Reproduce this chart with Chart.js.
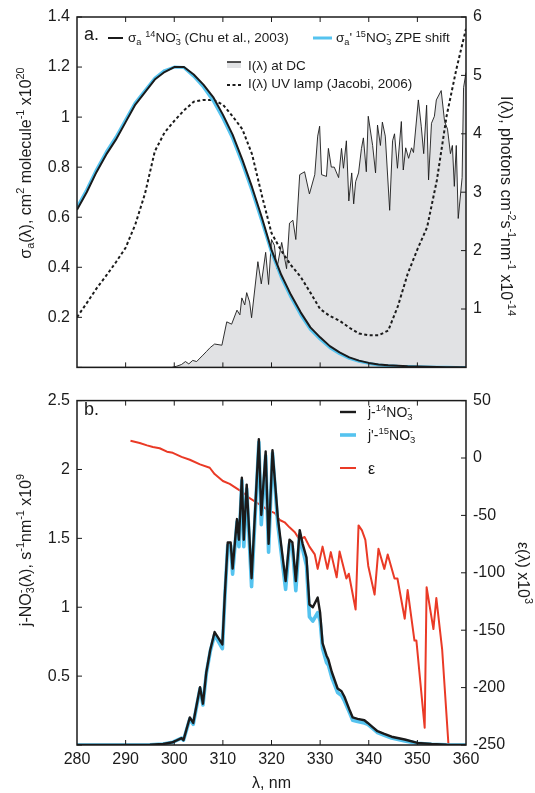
<!DOCTYPE html>
<html>
<head>
<meta charset="utf-8" />
<title>Nitrate cross sections, irradiance and photolysis rates</title>
<script src="https://cdn.jsdelivr.net/npm/chart.js@4"></script>
<style>
  html, body { margin: 0; padding: 0; background: #fff; }
  #wrap { position: relative; width: 535px; height: 793px; }
  canvas { position: absolute; left: 0; }
  #topChart { top: 0; }
  #botChart { top: 384px; }
</style>
</head>
<body>
<div id="wrap">
  <canvas id="topChart" width="535" height="384"></canvas>
  <canvas id="botChart" width="535" height="409"></canvas>
</div>
<script>
// ---- panel a: absorption cross sections (x1e-20 cm2) ----
const sigmaWl = [280, 282, 284, 286, 288, 290, 292, 294, 296, 298, 300, 302, 304, 306, 308, 310, 312, 314, 316, 318,
  320, 322, 324, 326, 328, 330, 332, 334, 336, 338, 340, 342, 344, 346, 348, 350, 352, 354, 356, 358, 360];
const sigma14 = [0.63, 0.70, 0.78, 0.85, 0.91, 0.98, 1.05, 1.10, 1.15, 1.18, 1.20, 1.20, 1.17, 1.13, 1.08, 1.01, 0.93, 0.83, 0.72, 0.60,
  0.47, 0.37, 0.29, 0.22, 0.16, 0.12, 0.085, 0.06, 0.04, 0.027, 0.018, 0.012, 0.009, 0.007, 0.005, 0.004, 0.003, 0.002, 0.001, 0.001, 0];
const sigma15 = [0.64, 0.71, 0.79, 0.86, 0.92, 0.99, 1.058, 1.107, 1.156, 1.186, 1.20, 1.198, 1.163, 1.12, 1.065, 0.995, 0.915, 0.815, 0.705, 0.585,
  0.46, 0.36, 0.28, 0.21, 0.152, 0.113, 0.079, 0.055, 0.036, 0.024, 0.016, 0.010, 0.007, 0.005, 0.004, 0.003, 0.002, 0.001, 0.001, 0, 0];

// UV lamp irradiance (x1e14 photons cm-2 s-1 nm-1)
const lampWl = sigmaWl;
const lampI = [0.86, 1.10, 1.35, 1.57, 1.80, 2.05, 2.45, 2.98, 3.70, 4.02, 4.22, 4.40, 4.55, 4.58, 4.58, 4.50, 4.30, 4.08, 3.65, 2.95,
  2.30, 2.00, 1.75, 1.55, 1.28, 1.00, 0.88, 0.80, 0.68, 0.58, 0.55, 0.55, 0.63, 1.05, 1.60, 2.02, 2.40, 3.20, 4.30, 5.10, 5.80];

// irradiance at Dome C
const dcWl = [280, 299.5, 300.5, 301.5, 302.3, 303.0, 303.8, 304.6, 305.3, 305.9, 306.6, 307.4, 308.3, 309.8, 310.8, 311.8, 312.9, 313.5,
  313.9, 314.5, 314.9, 315.5, 315.9, 317.2, 317.9, 318.8, 319.4, 320.0, 320.6, 321.1, 322.1, 323.1, 323.7, 324.4, 325.0, 325.8,
  326.8, 327.8, 328.9, 329.5, 329.9, 330.3, 331.3, 331.7, 332.3, 332.9, 333.8, 334.4, 334.8, 335.4, 335.9, 336.5, 336.9, 337.3,
  337.9, 338.5, 338.9, 339.5, 339.9, 340.8, 341.4, 341.8, 342.4, 342.8, 343.4, 344.3, 344.9, 345.3, 345.9, 346.7, 347.1, 347.6,
  348.2, 348.8, 349.2, 350.2, 350.8, 351.3, 351.9, 352.3, 352.9, 353.5, 353.9, 354.9, 355.6, 356.2, 356.8, 357.2, 357.6, 358.0,
  358.4, 359.2, 359.5, 360];
const dcI = [0, 0, 0.02, 0.05, 0.10, 0.06, 0.12, 0.10, 0.16, 0.21, 0.27, 0.34, 0.40, 0.38, 0.78, 0.74, 0.98, 0.90,
  1.19, 1.07, 1.28, 1.12, 0.85, 1.81, 1.43, 1.97, 1.42, 2.19, 2.09, 1.69, 2.14, 1.69, 2.47, 2.52, 2.19, 3.30,
  3.35, 2.97, 3.30, 3.96, 4.13, 3.30, 3.27, 3.75, 3.43, 3.43, 3.25, 3.75, 3.41, 3.88, 2.85, 3.33, 2.80, 3.18,
  3.33, 3.75, 3.93, 3.35, 4.30, 3.80, 3.33, 4.15, 3.80, 4.20, 3.96, 2.69, 3.88, 4.00, 3.41, 4.21, 3.38, 3.76,
  3.58, 3.76, 3.68, 4.58, 4.13, 3.66, 4.49, 3.21, 4.18, 4.30, 4.58, 4.74, 4.21, 4.08, 3.66, 3.80, 3.10, 3.80,
  2.55, 3.25, 4.79, 5.05];

// ---- panel b: photolysis rate spectra (x1e-9 s-1 nm-1) ----
const jWl = [280, 290, 295, 297.7, 299.7, 301.5, 301.9, 303.2, 303.9, 304.6, 305.3, 305.9, 306.6, 307.4, 308.3, 309.9, 310.4,
  311.0, 311.6, 312.0, 312.9, 313.3, 313.9, 314.3, 314.9, 315.9, 317.4, 317.9, 318.8, 319.4, 320.2, 321.3, 322.9, 323.7,
  324.3, 325.0, 325.8, 326.4, 327.2, 327.8, 328.5, 329.5, 330.0, 330.5, 331.3, 331.7, 332.4, 333.6, 334.4, 335.0, 336.1,
  336.7, 337.7, 339.1, 339.8, 340.8, 341.8, 343.2, 344.7, 347.4, 350.0, 352.9, 356, 360];
const j14 = [0, 0, 0.002, 0.007, 0.02, 0.05, 0.035, 0.20, 0.16, 0.29, 0.42, 0.30, 0.53, 0.69, 0.82, 0.73, 1.09,
  1.47, 1.47, 1.28, 1.64, 1.49, 1.94, 1.49, 1.89, 1.21, 2.22, 1.67, 2.13, 1.46, 2.14, 1.65, 1.19, 1.49,
  1.47, 1.19, 1.56, 1.46, 1.36, 1.02, 1.00, 1.07, 0.96, 0.74, 0.65, 0.62, 0.53, 0.41, 0.39, 0.35, 0.25,
  0.20, 0.19, 0.18, 0.16, 0.13, 0.10, 0.08, 0.06, 0.04, 0.015, 0.007, 0.002, 0];
const j15 = [0, 0, 0.002, 0.007, 0.02, 0.05, 0.035, 0.19, 0.15, 0.28, 0.41, 0.29, 0.52, 0.68, 0.80, 0.70, 1.07,
  1.45, 1.45, 1.24, 1.62, 1.44, 1.92, 1.44, 1.86, 1.15, 2.20, 1.60, 2.10, 1.40, 2.12, 1.60, 1.13, 1.46,
  1.44, 1.12, 1.53, 1.42, 1.30, 0.93, 0.90, 0.96, 0.90, 0.70, 0.60, 0.58, 0.49, 0.38, 0.36, 0.32, 0.23,
  0.18, 0.17, 0.16, 0.15, 0.12, 0.09, 0.07, 0.05, 0.03, 0.012, 0.005, 0.001, 0];

// isotope effect epsilon (x1e3)
const epsWl = [291.0, 292.9, 294.4, 295.6, 297.0, 298.5, 299.7, 301.5, 303.2, 305.3, 307.3, 308.3, 310.0, 311.4, 312.9, 314.1,
  315.5, 317.0, 318.6, 319.6, 320.7, 321.7, 322.7, 323.7, 324.8, 325.8, 326.8, 327.8, 328.9, 329.5, 330.5, 331.5, 332.2,
  333.4, 334.0, 335.4, 335.9, 337.3, 337.9, 338.6, 339.3, 339.9, 341.2, 342.0, 343.2, 343.9, 345.3, 345.9, 347.4, 348.0,
  349.4, 349.8, 351.5, 351.9, 353.3, 353.9, 355.1, 356.4];
const eps = [15, 13, 11, 9.6, 8.5, 5.5, 4.5, 1, -1.5, -5.6, -8.5, -14, -20, -22.5, -26.7, -30,
  -35, -39, -43.5, -46, -48, -54, -56, -60.4, -64.6, -71.3, -68.8, -77.2, -84, -96.6, -77.2, -96.6, -82,
  -104, -81.5, -105, -100.8, -132, -58.7, -63, -71.3, -94, -119, -79, -96.6, -84, -105, -105, -140, -115,
  -159, -159, -235, -112.6, -149, -122, -167, -250];

const FONT = "'Liberation Sans', Arial, sans-serif";
const INK = '#1b1b1b';
const BLUE = '#55c3ef';
const RED = '#ea3a26';
const GRAY = '#e1e2e4';

function pairs(xs, ys) { return xs.map((x, i) => ({ x: x, y: ys[i] })); }

// text with ^{..} and _{..} parts
function richParts(str) {
  const parts = [];
  const re = /([\^_])\{([^}]*)\}/g;
  let last = 0, m;
  while ((m = re.exec(str))) {
    if (m.index > last) parts.push({ t: str.slice(last, m.index), k: 'n' });
    parts.push({ t: m[2], k: m[1] === '^' ? 'sup' : 'sub' });
    last = re.lastIndex;
  }
  if (last < str.length) parts.push({ t: str.slice(last), k: 'n' });
  return parts;
}

function richText(ctx, str, x, y, size, align) {
  const small = size * 0.68;
  const placed = [];
  let w = 0, prev = null;
  richParts(str).forEach(p => {
    ctx.font = (p.k === 'n' ? size : small) + 'px ' + FONT;
    const pw = ctx.measureText(p.t).width;
    let px = w;
    if (p.k === 'sup' && prev && prev.p.k === 'sub') {
      px = prev.px;
      w = prev.px + Math.max(prev.pw, pw);
    } else {
      w += pw;
    }
    prev = { p, px, pw };
    placed.push(prev);
  });
  const x0 = align === 'center' ? x - w / 2 : x;
  ctx.textAlign = 'left';
  ctx.textBaseline = 'alphabetic';
  placed.forEach(o => {
    const k = o.p.k;
    ctx.font = (k === 'n' ? size : small) + 'px ' + FONT;
    const dy = k === 'sup' ? -size * 0.4 : (k === 'sub' ? size * 0.22 : 0);
    ctx.fillText(o.p.t, x0 + o.px, y + dy);
  });
}

// frame, inward ticks, legend and rotated axis titles
const decor = {
  id: 'decor',
  afterDraw(chart, args, opts) {
    const ctx = chart.ctx, a = chart.chartArea;
    ctx.save();
    ctx.strokeStyle = INK;
    ctx.lineWidth = 1;
    const tl = 5;
    Object.values(chart.scales).forEach(s => {
      s.ticks.forEach(t => {
        const p = s.getPixelForValue(t.value);
        ctx.beginPath();
        if (s.axis === 'x') {
          if (p <= a.left + 1 || p >= a.right - 1) return;
          ctx.moveTo(p, a.bottom); ctx.lineTo(p, a.bottom - tl);
          ctx.moveTo(p, a.top); ctx.lineTo(p, a.top + tl);
        } else if (s.position === 'left') {
          ctx.moveTo(a.left, p); ctx.lineTo(a.left + tl, p);
        } else {
          ctx.moveTo(a.right, p); ctx.lineTo(a.right - tl, p);
        }
        ctx.stroke();
      });
    });
    ctx.lineWidth = 1.5;
    ctx.strokeRect(a.left, a.top, a.right - a.left, a.bottom - a.top);

    ctx.fillStyle = INK;
    ctx.font = opts.tag.size + 'px ' + FONT;
    ctx.fillText(opts.tag.text, opts.tag.x, opts.tag.y);

    opts.legend.forEach(it => {
      const ds = chart.data.datasets[it.ds];
      const y = it.y;
      if (ds.fill) {
        ctx.fillStyle = ds.backgroundColor;
        ctx.fillRect(it.x1, y, it.x2 - it.x1, 6);
        ctx.lineWidth = 1.5;
        ctx.strokeStyle = ds.borderColor;
        ctx.setLineDash([]);
      } else {
        ctx.lineWidth = ds.borderWidth;
        ctx.strokeStyle = ds.borderColor;
        ctx.setLineDash(ds.borderDash || []);
      }
      ctx.beginPath();
      ctx.moveTo(it.x1, y); ctx.lineTo(it.x2, y);
      ctx.stroke();
      ctx.setLineDash([]);
      ctx.fillStyle = INK;
      richText(ctx, it.text, it.tx, it.ty, it.size, 'left');
    });

    opts.titles.forEach(tt => {
      ctx.save();
      ctx.translate(tt.cx, tt.cy);
      ctx.rotate(tt.side === 'left' ? -Math.PI / 2 : Math.PI / 2);
      ctx.fillStyle = INK;
      richText(ctx, tt.text, 0, tt.size * 0.36, tt.size, 'center');
      ctx.restore();
    });
    ctx.restore();
  }
};

const tickFont = { family: FONT, size: 16 };
const trimTick = v => (Math.abs(v) < 1e-9 ? '' : String(Math.round(v * 100) / 100));
const line = { pointRadius: 0, borderJoinStyle: 'round', tension: 0 };

function yAxis(pos, min, max, step, width, cb) {
  return {
    type: 'linear', position: pos, min: min, max: max,
    grid: { display: false, drawTicks: false }, border: { display: false },
    ticks: { stepSize: step, padding: 7, color: INK, font: tickFont, callback: cb },
    afterFit: s => { s.width = width; }
  };
}

function xAxis(showLabels, height) {
  return {
    type: 'linear', min: 280, max: 360,
    grid: { display: false, drawTicks: false }, border: { display: false },
    ticks: { display: showLabels, stepSize: 10, padding: 5, color: INK, font: tickFont, maxRotation: 0, autoSkip: false },
    title: { display: showLabels, text: 'λ, nm', color: INK, font: { family: FONT, size: 16 }, padding: { top: 0, bottom: 0 } },
    afterFit: s => { s.height = height; }
  };
}

const common = {
  responsive: false, animation: false,
  plugins: { legend: { display: false }, tooltip: { enabled: false } }
};

new Chart(document.getElementById('topChart'), {
  type: 'line',
  data: {
    datasets: [
      Object.assign({ data: pairs(sigmaWl, sigma14), yAxisID: 'yS', borderColor: INK, borderWidth: 2 }, line),
      Object.assign({ data: pairs(sigmaWl, sigma15), yAxisID: 'yS', borderColor: BLUE, borderWidth: 3 }, line),
      Object.assign({ data: pairs(lampWl, lampI), yAxisID: 'yI', borderColor: INK, borderWidth: 2, borderDash: [3, 2.5] }, line),
      Object.assign({ data: pairs(dcWl, dcI), yAxisID: 'yI', borderColor: INK, borderWidth: 0.9, backgroundColor: GRAY, fill: 'origin' }, line)
    ]
  },
  options: Object.assign({}, common, {
    layout: { padding: { top: 17, bottom: 0, left: 0, right: 0 } },
    scales: {
      x: xAxis(false, 5),
      yS: yAxis('left', 0, 1.4, 0.2, 77, trimTick),
      yI: yAxis('right', 0, 6, 1, 69, trimTick)
    },
    plugins: Object.assign({}, common.plugins, {
      decor: {
        tag: { text: 'a.', x: 84, y: 40, size: 18 },
        legend: [
          { ds: 0, x1: 108, x2: 123, y: 38, tx: 128, ty: 42, size: 13.5, text: 'σ_{a} ^{14}NO_{3}^{-} (Chu et al., 2003)' },
          { ds: 1, x1: 313, x2: 332, y: 38, tx: 336, ty: 42, size: 13.5, text: "σ_{a}' ^{15}NO_{3}^{-} ZPE shift" },
          { ds: 3, x1: 227, x2: 241, y: 62, tx: 248, ty: 69.5, size: 13.5, text: 'I(λ) at DC' },
          { ds: 2, x1: 227, x2: 241, y: 85, tx: 248, ty: 87.5, size: 13.5, text: 'I(λ) UV lamp (Jacobi, 2006)' }
        ],
        titles: [
          { side: 'left', cx: 25, cy: 163, size: 16, text: 'σ_{a}(λ), cm^{2} molecule^{-1} x10^{20}' },
          { side: 'right', cx: 507, cy: 206, size: 16, text: 'I(λ), photons cm^{-2}s^{-1}nm^{-1} x10^{-14}' }
        ]
      }
    })
  }),
  plugins: [decor]
});

new Chart(document.getElementById('botChart'), {
  type: 'line',
  data: {
    datasets: [
      Object.assign({ data: pairs(jWl, j14), yAxisID: 'yJ', borderColor: INK, borderWidth: 2.4 }, line),
      Object.assign({ data: pairs(jWl, j15), yAxisID: 'yJ', borderColor: BLUE, borderWidth: 3.6 }, line),
      Object.assign({ data: pairs(epsWl, eps), yAxisID: 'yE', borderColor: RED, borderWidth: 2 }, line)
    ]
  },
  options: Object.assign({}, common, {
    layout: { padding: { top: 5, bottom: 0, left: 0, right: 0 } },
    scales: {
      x: xAxis(true, 48),
      yJ: yAxis('left', 0, 2.5, 0.5, 77, trimTick),
      yE: yAxis('right', -250, 50, 50, 69, v => String(v))
    },
    plugins: Object.assign({}, common.plugins, {
      decor: {
        tag: { text: 'b.', x: 84, y: 31, size: 18 },
        legend: [
          { ds: 0, x1: 340, x2: 356, y: 28, tx: 368, ty: 33, size: 14, text: 'j-^{14}NO_{3}^{-}' },
          { ds: 1, x1: 340, x2: 356, y: 51, tx: 368, ty: 56, size: 14, text: "j'-^{15}NO_{3}^{-}" },
          { ds: 2, x1: 340, x2: 356, y: 84, tx: 368, ty: 90, size: 16, text: 'ε' }
        ],
        titles: [
          { side: 'left', cx: 25, cy: 166, size: 16, text: 'j-NO_{3}^{-}(λ), s^{-1}nm^{-1} x10^{9}' },
          { side: 'right', cx: 524, cy: 189, size: 16, text: 'ε(λ) x10^{3}' }
        ]
      }
    })
  }),
  plugins: [decor]
});
</script>
</body>
</html>
